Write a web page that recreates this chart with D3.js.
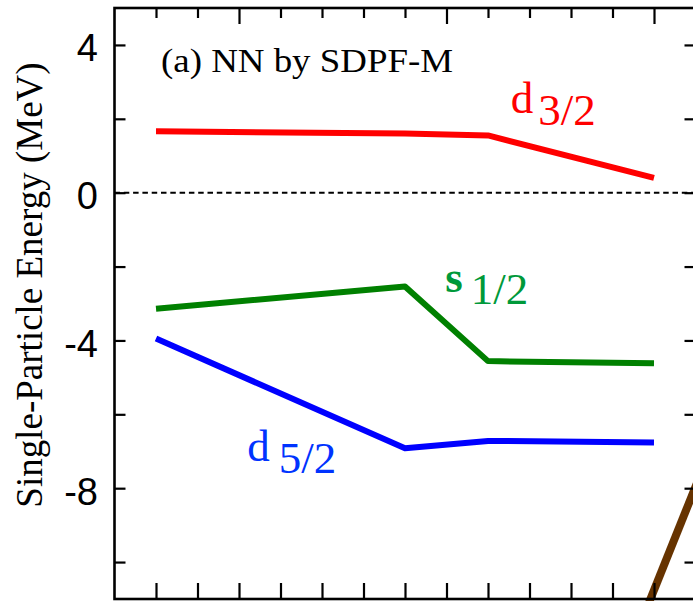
<!DOCTYPE html>
<html><head><meta charset="utf-8">
<script src="https://cdn.jsdelivr.net/npm/d3@7"></script>
<style>html,body{margin:0;padding:0;background:#fff;} svg{display:block}</style>
</head><body>
<svg id="chart" width="693" height="601"></svg>
<script>
// ---- data ----
const neutronNumbers = [8, 14, 16, 20];
const d32Energies = [1.66, 1.60, 1.55, 0.40];
const s12Energies = [-3.14, -2.54, -4.56, -4.62];
const d52Energies = [-3.95, -6.92, -6.72, -6.76];
const f72Neutrons = [19.7, 21.2];
const f72Energies = [-11.6, -7.4];
const yTickValues = [-10, -8, -6, -4, -2, 0, 2, 4];
const yLabelValues = [-8, -4, 0, 4];
const xTickValues = [8, 9, 10, 11, 12, 13, 14, 15, 16, 17, 18, 19, 20];
const xMajorTicks = [10, 15, 20];
const panelTitle = "(a) NN by SDPF-M";
const yAxisTitle = "Single-Particle Energy (MeV)";
const orbitalLetters = ["d", "s", "d"];
const orbitalSubs = ["3/2", "1/2", "5/2"];
const orbitalLabelN = [16.55, 14.97, 10.2];
const orbitalLabelE = [2.16, -2.69, -7.27];

// ---- layout ----
const svg = d3.select("#chart");
const L = 114.5, R = 695.5, T = 8, B = 599;
const x = d3.scaleLinear().domain([7, 21]).range([L, R]);
const y = d3.scaleLinear().domain([-11, 5]).range([B, T]);

const serif = "'Liberation Serif','Times New Roman',Times,serif";
const sans = "'Liberation Sans',Arial,Helvetica,sans-serif";

svg.append("defs").append("clipPath").attr("id", "clip")
  .append("rect").attr("x", L).attr("y", T).attr("width", R - L).attr("height", 601 - T);

// zero line
svg.append("line").attr("x1", L).attr("x2", R).attr("y1", y(0)).attr("y2", y(0))
  .attr("stroke", "#000").attr("stroke-width", 2).attr("stroke-dasharray", "5.5,3.8");

// series
const series = [
  {e: d32Energies, n: neutronNumbers, color: "#ff0000", w: 6},
  {e: s12Energies, n: neutronNumbers, color: "#008000", w: 6},
  {e: d52Energies, n: neutronNumbers, color: "#0000ff", w: 6},
  {e: f72Energies, n: f72Neutrons, color: "#663300", w: 8}
];
const line = d3.line().x(d => x(d[0])).y(d => y(d[1]));
const g = svg.append("g").attr("clip-path", "url(#clip)");
series.forEach(s => {
  g.append("path").datum(s.n.map((n, i) => [n, s.e[i]]))
    .attr("d", line).attr("fill", "none").attr("stroke", s.color)
    .attr("stroke-width", s.w).attr("stroke-linejoin", "round");
});

// axes (ticks inward)
function styleAxis(sel) {
  sel.select(".domain").remove();
  sel.selectAll(".tick line").attr("stroke", "#000").attr("stroke-width", 2.2);
}
svg.append("g").attr("transform", `translate(${L},0)`)
  .call(d3.axisRight(y).tickValues(yTickValues).tickSize(11).tickFormat("")).call(styleAxis);
svg.append("g").attr("transform", `translate(${R},0)`)
  .call(d3.axisLeft(y).tickValues(yTickValues).tickSize(11).tickFormat("")).call(styleAxis);
svg.append("g").attr("transform", `translate(0,${T})`)
  .call(d3.axisBottom(x).tickValues(xTickValues.filter(v => !xMajorTicks.includes(v))).tickSize(10).tickFormat("")).call(styleAxis);
svg.append("g").attr("transform", `translate(0,${T})`)
  .call(d3.axisBottom(x).tickValues(xMajorTicks).tickSize(16).tickFormat("")).call(styleAxis);
svg.append("g").attr("transform", `translate(0,${B})`)
  .call(d3.axisTop(x).tickValues(xTickValues).tickSize(16).tickFormat("")).call(styleAxis);

// y tick labels
const yl = svg.append("g").attr("transform", `translate(${L},0)`)
  .call(d3.axisLeft(y).tickValues(yLabelValues).tickSize(0).tickPadding(16.5).tickFormat(d => String(d)));
yl.select(".domain").remove();
yl.selectAll("text").attr("font-family", sans).attr("font-size", 38).attr("fill", "#000").attr("dy", 16);

// frame
svg.append("rect").attr("x", L).attr("y", T).attr("width", R - L).attr("height", B - T)
  .attr("fill", "none").attr("stroke", "#000").attr("stroke-width", 2.6);

// y axis title
svg.append("text").attr("transform", "translate(42,285) rotate(-90)")
  .attr("text-anchor", "middle").attr("font-family", serif).attr("font-size", 37)
  .attr("fill", "#000").text(yAxisTitle);

// panel title
svg.append("text").attr("x", 161).attr("y", 72).attr("font-family", serif).attr("font-size", 34)
  .attr("textLength", 292).attr("lengthAdjust", "spacingAndGlyphs")
  .attr("fill", "#000").text(panelTitle);

// orbital labels
const labelColors = ["#ff0000", "#00993a", "#0033ff"];
const subGap = [5, 8, 9];
orbitalLetters.forEach((ltr, i) => {
  const t = svg.append("text").attr("x", x(orbitalLabelN[i])).attr("y", y(orbitalLabelE[i]))
    .attr("font-family", serif).attr("font-size", 45).attr("fill", labelColors[i]);
  t.append("tspan").attr("font-weight", i === 1 ? "bold" : "normal").text(ltr);
  t.append("tspan").attr("dx", subGap[i]).attr("dy", 12).text(orbitalSubs[i]);
});
</script>
</body></html>
